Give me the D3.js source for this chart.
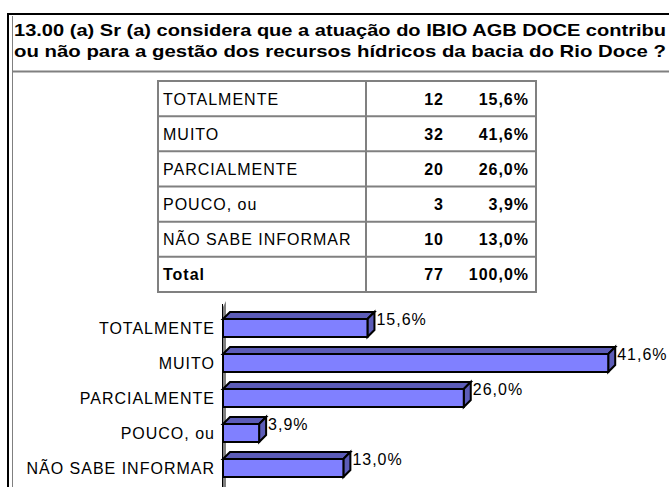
<!DOCTYPE html>
<html>
<head>
<meta charset="utf-8">
<script src="https://cdn.jsdelivr.net/npm/d3@7"></script>
<style>
  html, body { margin: 0; padding: 0; background: #fff; }
  svg { display: block; font-family: "Liberation Sans", Arial, sans-serif; }
  .lbl { font-size: 16px; letter-spacing: 1px; fill: #000; }
  .num { font-size: 16px; font-weight: bold; letter-spacing: 1px; fill: #000; }
  .ttl { font-size: 17px; font-weight: bold; fill: #000; }
</style>
</head>
<body>
<svg id="chart" width="669" height="487"></svg>
<script>
// Survey question and answers
const titleLines = [
  "13.00 (a) Sr (a) considera que a atuação do IBIO AGB DOCE contribu",
  "ou não para a gestão dos recursos hídricos da bacia do Rio Doce ?"
];
const categories = ["TOTALMENTE", "MUITO", "PARCIALMENTE", "POUCO, ou", "NÃO SABE INFORMAR"];
const counts = [12, 32, 20, 3, 10];
const percents = [15.6, 41.6, 26.0, 3.9, 13.0];
const totalLabel = "Total";
const totalCount = 77;
const totalPercent = 100.0;

const fmtPct = v => d3.format(".1f")(v).replace(".", ",") + "%";

const svg = d3.select("#chart");
const W = 669, H = 487;

svg.append("rect").attr("width", W).attr("height", H).attr("fill", "#fff");

// Outer frame: black border with a grey inner rule on the left
svg.append("rect")
  .attr("x", 8).attr("y", 14).attr("width", W + 20).attr("height", H + 20)
  .attr("fill", "none").attr("stroke", "#000").attr("stroke-width", 2);
svg.append("line")
  .attr("x1", 12.5).attr("x2", 12.5).attr("y1", 16).attr("y2", H)
  .attr("stroke", "#808080").attr("stroke-width", 1);

// Title
svg.selectAll("text.ttl").data(titleLines).join("text")
  .attr("class", "ttl")
  .attr("x", 14)
  .attr("y", (d, i) => 36 + i * 21)
  .attr("textLength", 652)
  .attr("lengthAdjust", "spacingAndGlyphs")
  .text(d => d);

svg.append("line")
  .attr("x1", 12).attr("x2", W).attr("y1", 71.5).attr("y2", 71.5)
  .attr("stroke", "#808080").attr("stroke-width", 2);

// Frequency table
const rows = categories.map((c, i) => ({ label: c, n: counts[i], p: percents[i], bold: false }))
  .concat([{ label: totalLabel, n: totalCount, p: totalPercent, bold: true }]);

const tX0 = 158, tX1 = 536, tXmid = 366, tY0 = 81, tY1 = 292;
const rowY = d3.scaleBand().domain(d3.range(rows.length)).range([tY0, tY1]);
const grid = svg.append("g").attr("stroke", "#808080").attr("stroke-width", 2).attr("fill", "none");
grid.append("rect").attr("x", tX0).attr("y", tY0).attr("width", tX1 - tX0).attr("height", tY1 - tY0);
grid.append("line").attr("x1", tXmid).attr("x2", tXmid).attr("y1", tY0).attr("y2", tY1);
grid.selectAll("line.row").data(d3.range(1, rows.length)).join("line")
  .attr("class", "row")
  .attr("x1", tX0).attr("x2", tX1)
  .attr("y1", d => rowY(d)).attr("y2", d => rowY(d));

const tRows = svg.append("g").selectAll("g").data(rows).join("g")
  .attr("transform", (d, i) => `translate(0,${rowY(i) + rowY.bandwidth() / 2 + 6})`);
tRows.append("text")
  .attr("class", d => d.bold ? "num" : "lbl")
  .attr("x", 163)
  .text(d => d.label);
tRows.append("text")
  .attr("class", "num").attr("text-anchor", "end")
  .attr("x", 444)
  .text(d => d.n);
tRows.append("text")
  .attr("class", "num").attr("text-anchor", "end")
  .attr("x", 529)
  .text(d => fmtPct(d.p));

// 3D horizontal bar chart
const depth = 7;
const x = d3.scaleLinear().domain([0, 50]).range([223, 686]);
const y = d3.scaleBand().domain(categories).range([307, 482]).paddingInner(10 / 35).paddingOuter(5 / 35);
const faceH = y.bandwidth() - depth;

// Axis wall
svg.append("path")
  .attr("d", `M${x(0)},307 L${x(0) + 3},301 L${x(0) + 3},${H} L${x(0)},${H} Z`)
  .attr("fill", "#808080");
svg.append("line")
  .attr("x1", x(0) - 0.5).attr("x2", x(0) - 0.5).attr("y1", 304).attr("y2", H)
  .attr("stroke", "#000").attr("stroke-width", 1);

const data = categories.map((c, i) => ({ c, v: percents[i] }));
const bars = svg.append("g").selectAll("g").data(data).join("g");

bars.each(function (d) {
  const g = d3.select(this);
  const b = y(d.c), x0 = x(0), xe = x(d.v);
  const top = b + depth, bot = b + depth + faceH;
  // top face
  g.append("path")
    .attr("d", `M${x0},${top} L${x0 + depth},${b} L${xe + depth},${b} L${xe},${top} Z`)
    .attr("fill", "#5c5cb8").attr("stroke", "#000").attr("stroke-width", 2).attr("stroke-linejoin", "miter");
  // side face
  g.append("path")
    .attr("d", `M${xe},${top} L${xe + depth},${b} L${xe + depth},${bot - depth} L${xe},${bot} Z`)
    .attr("fill", "#5c5cb8").attr("stroke", "#000").attr("stroke-width", 2);
  // front face
  g.append("rect")
    .attr("x", x0).attr("y", top).attr("width", xe - x0).attr("height", faceH)
    .attr("fill", "#8080ff").attr("stroke", "#000").attr("stroke-width", 2);
  // value label
  g.append("text")
    .attr("class", "lbl")
    .attr("x", xe + depth + 2)
    .attr("y", top + 6)
    .text(fmtPct(d.v));
});

// Category labels
svg.append("g").selectAll("text").data(categories).join("text")
  .attr("class", "lbl")
  .attr("text-anchor", "end")
  .attr("x", 215)
  .attr("y", d => y(d) + depth + faceH / 2 + 6)
  .text(d => d);
</script>
</body>
</html>
